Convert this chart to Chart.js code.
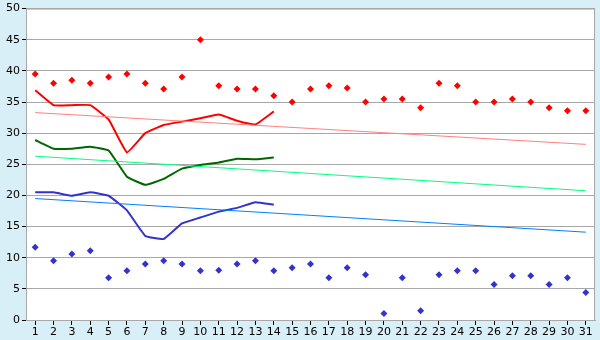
<!DOCTYPE html>
<html lang="en">
<head>
    <meta charset="UTF-8">
    <title>Temperatures</title>
    <style>
        html, body { margin: 0; padding: 0; background: #d9eff7; }
        #box { width: 600px; height: 340px; }
    </style>
</head>
<body>
    <div id="box"><canvas id="tempChart" width="600" height="340"></canvas></div>
<script src="https://cdn.jsdelivr.net/npm/chart.js"></script>
<script>
const days = ['1','2','3','4','5','6','7','8','9','10','11','12','13','14','15','16',
    '17','18','19','20','21','22','23','24','25','26','27','28','29','30','31'];

const dailyMax = [39.5, 38.0, 38.5, 38.0, 39.0, 39.5, 38.0, 37.1, 39.0, 45.0, 37.6, 37.1, 37.1, 36.0, 35.0,
    37.1, 37.6, 37.25, 35.0, 35.5, 35.5, 34.1, 38.0, 37.6, 35.0, 35.0, 35.5, 35.0, 34.1, 33.6, 33.6];
const dailyMin = [11.7, 9.5, 10.6, 11.1, 6.8, 7.9, 9.0, 9.5, 9.0, 7.9, 8.0, 9.0, 9.5, 7.9, 8.4,
    9.0, 6.8, 8.4, 7.25, 1.05, 6.8, 1.5, 7.25, 7.9, 7.9, 5.7, 7.1, 7.1, 5.7, 6.8, 4.4];

const avgMax = [36.9, 34.5, 34.5, 34.5, 32.2, 26.9, 30.0, 31.3, 31.85, 32.4, 33.0, 32.0, 31.4, 33.5];
const avgMean = [28.9, 27.5, 27.5, 27.8, 27.2, 23.0, 21.7, 22.65, 24.3, 24.9, 25.3, 25.9, 25.8, 26.1];
const avgMin = [20.5, 20.5, 19.95, 20.5, 19.95, 17.6, 13.5, 13.0, 15.5, 16.45, 17.4, 18.0, 18.9, 18.5];

// trend lines: value on day 1 and on day 31
const trendMax = [33.3, 28.2];
const trendMean = [26.3, 20.75];
const trendMin = [19.5, 14.1];

const yTicks = [0, 5, 10, 15, 20, 25, 30, 35, 40, 45, 50];

function endsOnly(pair) {
    let arr = days.map(() => null);
    arr[0] = pair[0];
    arr[days.length - 1] = pair[1];
    return arr;
}

const plotFrame = {
    id: 'plotFrame',
    beforeDraw(chart) {
        const a = chart.chartArea;
        const ctx = chart.ctx;
        ctx.save();
        ctx.fillStyle = '#ffffff';
        ctx.fillRect(a.left, a.top, a.right - a.left, a.bottom - a.top);
        ctx.restore();
    },
    afterDraw(chart) {
        const a = chart.chartArea;
        const ctx = chart.ctx;
        ctx.save();
        ctx.strokeStyle = '#a8a8a8';
        ctx.lineWidth = 1;
        ctx.strokeRect(a.left + 0.5, a.top + 0.5, a.right - a.left - 1, a.bottom - a.top);
        ctx.restore();
    }
};

Chart.defaults.font.family = 'DejaVu Sans';
Chart.defaults.font.size = 11;
Chart.defaults.color = '#000';

const ctx = document.getElementById('tempChart').getContext('2d');
new Chart(ctx, {
    type: 'line',
    data: {
        labels: days,
        datasets: [
            { data: endsOnly(trendMax), borderColor: '#ff8080', borderWidth: 1, pointRadius: 0, spanGaps: true },
            { data: endsOnly(trendMean), borderColor: '#00ff80', borderWidth: 1, pointRadius: 0, spanGaps: true },
            { data: endsOnly(trendMin), borderColor: '#0080ff', borderWidth: 1, pointRadius: 0, spanGaps: true },
            { data: avgMax, borderColor: '#ff0000', borderWidth: 2, pointRadius: 0, tension: 0.1 },
            { data: avgMean, borderColor: '#006600', borderWidth: 2, pointRadius: 0, tension: 0.1 },
            { data: avgMin, borderColor: '#3333cc', borderWidth: 2, pointRadius: 0, tension: 0.1 },
            { data: dailyMax, showLine: false, pointStyle: 'rectRot', pointRadius: 3.5, borderWidth: 0,
                backgroundColor: '#ff0000', borderColor: '#ff0000' },
            { data: dailyMin, showLine: false, pointStyle: 'rectRot', pointRadius: 3.5, borderWidth: 0,
                backgroundColor: '#3333cc', borderColor: '#3333cc' }
        ]
    },
    options: {
        responsive: false,
        animation: false,
        layout: { padding: { top: 5, right: 5, left: 0, bottom: 0 } },
        plugins: { legend: { display: false }, tooltip: { enabled: false } },
        scales: {
            x: {
                offset: true,
                grid: { drawOnChartArea: false, tickLength: 5, tickColor: '#000', offset: false },
                border: { color: '#a8a8a8' },
                ticks: { padding: 1, maxRotation: 0, autoSkip: false },
                afterFit(scale) { scale.height = 20; }
            },
            y: {
                min: 0,
                max: 50,
                afterBuildTicks(scale) { scale.ticks = yTicks.map(v => ({ value: v })); },
                grid: { color: '#a8a8a8', tickLength: 4, tickColor: '#000' },
                border: { color: '#a8a8a8' },
                ticks: { padding: 2 },
                afterFit(scale) { scale.width = 26; }
            }
        }
    },
    plugins: [plotFrame]
});
</script>
</body>
</html>
